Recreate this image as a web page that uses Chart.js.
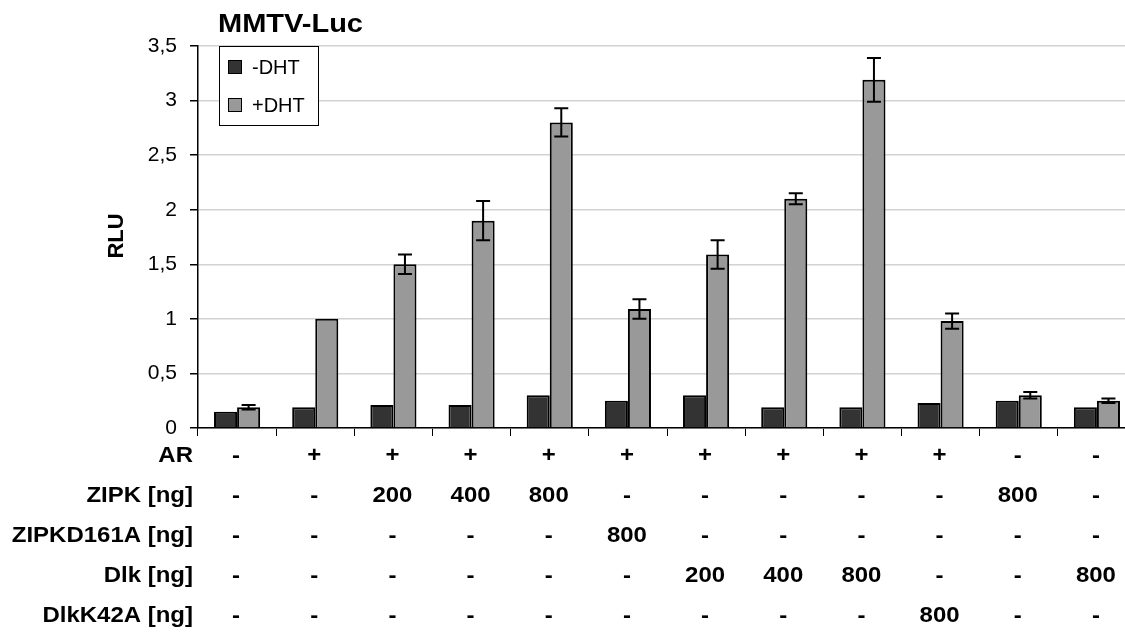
<!DOCTYPE html>
<html>
<head>
<meta charset="utf-8">
<script src="https://cdn.jsdelivr.net/npm/chart.js@4.4.0/dist/chart.umd.min.js"></script>
<style>
  html, body { margin: 0; padding: 0; background: #fff; overflow: hidden; width: 1125px; height: 633px; }
  #wrap { width: 1136px; height: 633px; position: relative; }
</style>
</head>
<body>
<div id="wrap"><canvas id="chart"></canvas></div>
<script>
// data
const minusDHT = [0.15, 0.19, 0.21, 0.21, 0.30, 0.25, 0.30, 0.19, 0.19, 0.23, 0.25, 0.19];
const plusDHT = [0.19, 1.0, 1.5, 1.9, 2.8, 1.09, 1.59, 2.1, 3.19, 0.98, 0.30, 0.25];
const plusErr = [0.02, 0, 0.09, 0.18, 0.13, 0.09, 0.13, 0.05, 0.2, 0.07, 0.03, 0.02];

const rowLabels = ["AR", "ZIPK [ng]", "ZIPKD161A [ng]", "Dlk [ng]", "DlkK42A [ng]"];
const arRow = ["-", "+", "+", "+", "+", "+", "+", "+", "+", "+", "-", "-"];
const zipkRow = ["-", "-", "200", "400", "800", "-", "-", "-", "-", "-", "800", "-"];
const zipkD161ARow = ["-", "-", "-", "-", "-", "800", "-", "-", "-", "-", "-", "-"];
const dlkRow = ["-", "-", "-", "-", "-", "-", "200", "400", "800", "-", "-", "800"];
const dlkK42ARow = ["-", "-", "-", "-", "-", "-", "-", "-", "-", "800", "-", "-"];
const tableRows = [arRow, zipkRow, zipkD161ARow, dlkRow, dlkK42ARow];

const categories = arRow.map((v, i) => "Lane " + (i + 1));
const seriesNames = ["-DHT", "+DHT"];
const seriesColors = ["#333333", "#999999"];

const FONT = "'Liberation Sans', Arial, sans-serif";

// text in the original is a bit wider than normal Arial
function wideText(ctx, text, x, y, sx) {
  ctx.save();
  ctx.scale(sx, 1);
  ctx.fillText(text, x / sx, y);
  ctx.restore();
}

// error bars, table, legend, titles
const extras = {
  id: "extras",
  afterDatasetsDraw(chart) {
    const ctx = chart.ctx;
    const y = chart.scales.y;
    const x = chart.scales.x;
    const meta = chart.getDatasetMeta(1);

    // error bars on +DHT
    ctx.save();
    ctx.strokeStyle = "#000";
    ctx.lineWidth = 2;
    meta.data.forEach((bar, i) => {
      const e = plusErr[i];
      if (!e) return;
      const top = y.getPixelForValue(plusDHT[i] + e);
      const bot = y.getPixelForValue(plusDHT[i] - e);
      ctx.beginPath();
      ctx.moveTo(bar.x, top); ctx.lineTo(bar.x, bot);
      ctx.moveTo(bar.x - 7, top); ctx.lineTo(bar.x + 7, top);
      ctx.moveTo(bar.x - 7, bot); ctx.lineTo(bar.x + 7, bot);
      ctx.stroke();
    });
    ctx.restore();

    // title
    ctx.save();
    ctx.fillStyle = "#000";
    ctx.font = "bold 25px " + FONT;
    ctx.textAlign = "left";
    ctx.textBaseline = "alphabetic";
    wideText(ctx, "MMTV-Luc", 218, 32, 1.16);

    // y axis title
    ctx.translate(117, 236);
    ctx.rotate(-Math.PI / 2);
    ctx.font = "bold 22px " + FONT;
    ctx.textAlign = "center";
    ctx.textBaseline = "middle";
    ctx.fillText("RLU", 0, 0);
    ctx.restore();

    // legend
    ctx.save();
    const lx = 219, ly = 46, lw = 99, lh = 79;
    ctx.fillStyle = "#fff";
    ctx.fillRect(lx, ly, lw, lh);
    ctx.strokeStyle = "#000";
    ctx.lineWidth = 1;
    ctx.strokeRect(lx + 0.5, ly + 0.5, lw, lh);
    ctx.font = "20px " + FONT;
    ctx.textBaseline = "middle";
    ctx.textAlign = "left";
    seriesNames.forEach((name, i) => {
      const cy = ly + 21 + i * 38;
      ctx.fillStyle = seriesColors[i];
      ctx.fillRect(lx + 9, cy - 7, 14, 14);
      ctx.strokeRect(lx + 9.5, cy - 6.5, 13, 13);
      ctx.fillStyle = "#000";
      ctx.fillText(name, lx + 33, cy + 1);
    });
    ctx.restore();

    // condition table under the axis
    ctx.save();
    ctx.fillStyle = "#000";
    ctx.font = "bold 22px " + FONT;
    ctx.textBaseline = "middle";
    tableRows.forEach((row, r) => {
      const ty = 456 + r * 40;
      ctx.textAlign = "right";
      wideText(ctx, rowLabels[r], 193, ty, 1.09);
      ctx.textAlign = "center";
      row.forEach((v, i) => {
        wideText(ctx, v, x.getPixelForValue(i) - 1, ty, 1.09);
      });
    });
    ctx.restore();
  }
};

new Chart(document.getElementById("chart"), {
  type: "bar",
  data: {
    labels: categories,
    datasets: [
      {
        label: seriesNames[0],
        data: minusDHT,
        backgroundColor: seriesColors[0],
        borderColor: "#000",
        borderWidth: 2,
        borderSkipped: "bottom"
      },
      {
        label: seriesNames[1],
        data: plusDHT,
        backgroundColor: seriesColors[1],
        borderColor: "#000",
        borderWidth: 2,
        borderSkipped: "bottom"
      }
    ]
  },
  options: {
    responsive: true,
    maintainAspectRatio: false,
    animation: false,
    events: [],
    layout: { padding: { top: 46, left: 0, right: 0, bottom: 0 } },
    datasets: { bar: { categoryPercentage: 0.59, barPercentage: 1 } },
    plugins: { legend: { display: false }, tooltip: { enabled: false } },
    scales: {
      x: {
        offset: true,
        grid: {
          offset: true,
          drawOnChartArea: false,
          drawTicks: true,
          tickLength: 8,
          color: "#000",
          lineWidth: 1
        },
        border: { display: true, color: "#000", width: 1.5 },
        ticks: { display: false },
        afterFit: (s) => { s.height = 633 - 428; }
      },
      y: {
        min: 0,
        max: 3.5,
        grid: {
          color: "#d2d2d2",
          lineWidth: 1.5,
          tickLength: 8,
          tickColor: "#000"
        },
        border: { display: true, color: "#000", width: 1.5 },
        ticks: {
          stepSize: 0.5,
          color: "#000",
          font: { family: FONT, size: 21 },
          padding: 13,
          callback: (v) => String(v).replace(".", ",")
        },
        afterFit: (s) => { s.width = 198; }
      }
    }
  },
  plugins: [extras]
});
</script>
</body>
</html>
